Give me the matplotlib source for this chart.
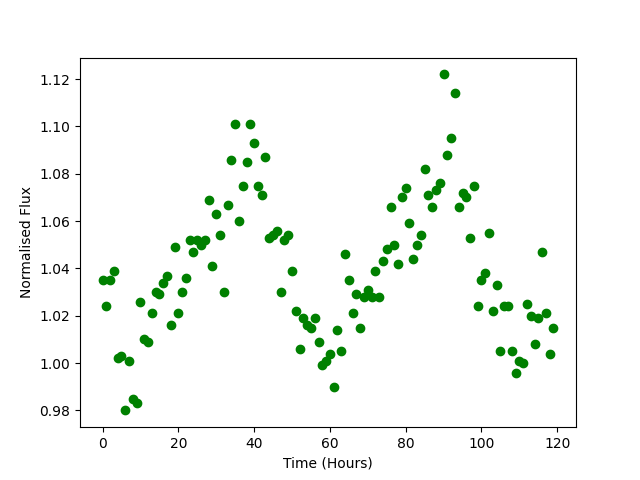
import numpy as np
import matplotlib
matplotlib.use('Agg')
import matplotlib.pyplot as plt

# Hourly samples
time_hours = np.arange(120)

# Normalised flux
flux = [1.035, 1.024, 1.035, 1.039, 1.002, 1.003, 0.980, 1.001, 0.985, 0.983,
        1.026, 1.010, 1.009, 1.021, 1.030, 1.029, 1.034, 1.037, 1.016, 1.049,
        1.021, 1.030, 1.036, 1.052, 1.047, 1.052, 1.050, 1.052, 1.069, 1.041,
        1.063, 1.054, 1.030, 1.067, 1.086, 1.101, 1.060, 1.075, 1.085, 1.101,
        1.093, 1.075, 1.071, 1.087, 1.053, 1.054, 1.056, 1.030, 1.052, 1.054,
        1.039, 1.022, 1.006, 1.019, 1.016, 1.015, 1.019, 1.009, 0.999, 1.001,
        1.004, 0.990, 1.014, 1.005, 1.046, 1.035, 1.021, 1.029, 1.015, 1.028,
        1.031, 1.028, 1.039, 1.028, 1.043, 1.048, 1.066, 1.050, 1.042, 1.070,
        1.074, 1.059, 1.044, 1.050, 1.054, 1.082, 1.071, 1.066, 1.073, 1.076,
        1.122, 1.088, 1.095, 1.114, 1.066, 1.072, 1.070, 1.053, 1.075, 1.024,
        1.035, 1.038, 1.055, 1.022, 1.033, 1.005, 1.024, 1.024, 1.005, 0.996,
        1.001, 1.000, 1.025, 1.020, 1.008, 1.019, 1.047, 1.021, 1.004, 1.015]

fig, ax = plt.subplots(figsize=(6.4, 4.8), dpi=100)
ax.plot(time_hours, flux, 'go')
ax.set_xlabel('Time (Hours)')
ax.set_ylabel('Normalised Flux')

fig.savefig('out.png')
